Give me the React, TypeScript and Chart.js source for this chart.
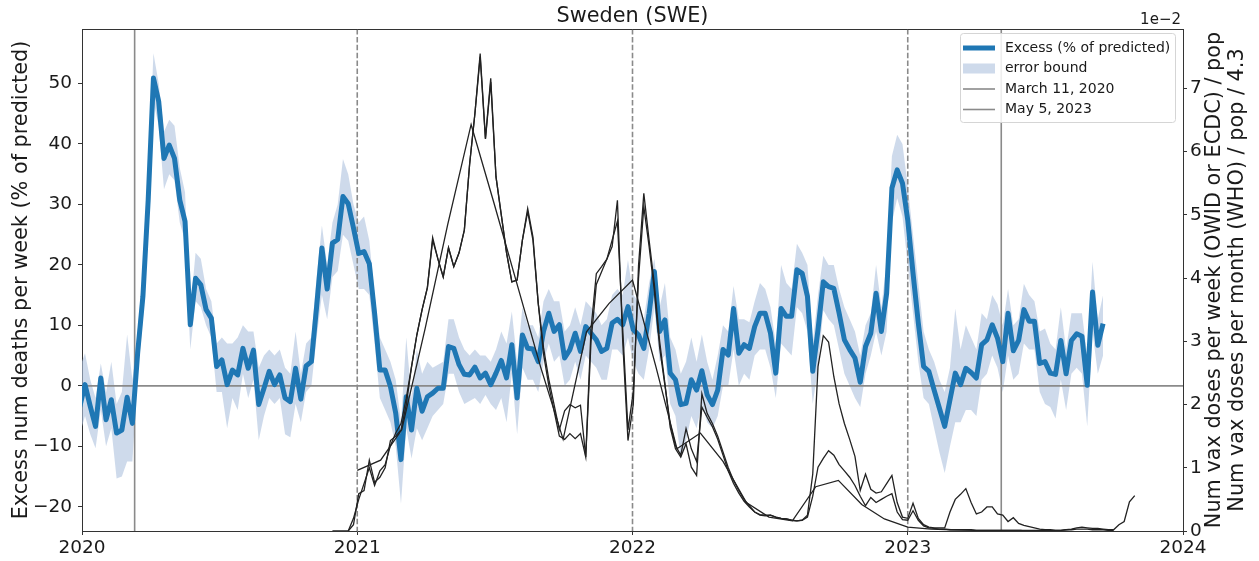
import React, { useEffect, useRef } from 'react';
import { Chart, registerables } from 'chart.js';

Chart.register(...registerables);

// ---------------- data ----------------
const excessStart = '2019-12-29'; // weekly series, first week
const excess = [
  -3.5, 0.2, -3.4, -6.7, 1.3, -5.6, -2.3, -7.8, -7.3, -1.9,
  -6.2, 5.4, 14.8, 30.7, 50.9, 47.0, 37.6, 39.8, 37.6, 30.7,
  27.2, 10.1, 17.8, 16.7, 12.6, 11.2, 3.2, 4.3, 0.2, 2.6,
  1.8, 6.2, 2.9, 5.9, -3.1, -0.4, 2.4, 0.2, 1.8, -2.0,
  -2.6, 2.9, -2.2, 3.3, 4.0, 13.1, 22.8, 16.0, 23.6, 24.2,
  31.3, 30.1, 26.1, 21.9, 22.2, 20.2, 12.0, 2.6, 2.6, -0.1,
  -4.5, -12.2, -1.8, -7.3, -0.4, -4.2, -1.8, -1.2, -0.4, -0.4,
  6.5, 6.2, 3.5, 1.9, 1.8, 3.1, 1.3, 2.1, 0.2, 2.1,
  4.2, 1.3, 6.8, -2.0, 8.4, 6.2, 6.1, 4.0, 9.0, 12.0,
  9.0, 10.1, 4.6, 6.0, 8.7, 5.7, 9.8, 8.7, 7.6, 5.7,
  6.2, 10.4, 11.0, 10.1, 13.1, 9.3, 8.4, 6.2, 12.0, 18.9,
  9.0, 10.9, 2.1, 1.0, -3.1, -2.9, 1.0, -0.7, 2.5, -1.5,
  -3.1, -0.7, 6.0, 5.1, 12.8, 5.4, 6.8, 6.2, 9.8, 12.0,
  12.0, 8.7, 2.1, 12.8, 11.5, 11.5, 19.2, 18.6, 14.8, 2.4,
  9.3, 17.2, 16.4, 16.1, 12.0, 7.6, 6.0, 4.6, 0.6, 6.5,
  8.7, 15.3, 9.0, 15.3, 32.7, 35.7, 33.5, 27.4, 18.6, 10.4,
  3.2, 2.4, -0.7, -3.7, -6.7, -2.3, 2.1, 0.2, 2.9, 2.2,
  1.3, 6.8, 7.6, 10.1, 7.9, 4.0, 12.0, 5.8, 7.5, 12.6,
  10.7, 10.7, 3.7, 4.0, 2.1, 1.9, 7.5, 2.0, 7.5, 8.6,
  8.2, 0.1, 15.5, 6.7, 10.3,
];
const bandLow = [
  -8, -5, -8, -10.3, -4, -10, -7, -15.3, -15, -12.5,
  -12.5, 2, 11, 26, 47, 43, 32.5, 35, 34, 27,
  24, 6, 14, 13, 10, 8, -1, -1, -7, -2,
  -4, 2, -2, 1, -9, -5, -2, -3, -2, -8,
  -8.5, -3, -6, -1, 0, 8, 15, 11, 18, 19,
  25, 24, 20, 16, 16, 15, 7, -2, -4, -6,
  -10, -19.5, -7, -12, -7, -9, -7, -5, -4, -3,
  2, 2, -1, -3, -2.5, -2, -3, -1.5, -3, -4,
  -2, -6, 2, -8, 3, 1, 1, -1, 4, 7,
  4, 5, 0, 1, 4, 1, 5, 4, 3, 1,
  1, 6, 6, 5, 8, 4, 2, 1, 6, 13,
  4, 5, -3, -5, -12, -9, -5, -7, -3, -6,
  -7, -5, 0, 0, 6, 0, 2, 1, 5, 6,
  6, 3, -2, 7, 6, 5, 13, 12, 9, -3,
  3, 12.5, 11, 10, 6, 2, 0, -2, -3.5, 2,
  5, 9, 5, 9, 27, 31, 28, 20, 12, 4,
  -2, -3, -7, -11, -14.4, -10, -6, -6, -4, -4,
  -5, 1, 2, 5, 3, -1, 5, 1, 2, 7,
  6, 6, -1, -3, -3.5, -5.4, 1, -4, 2, 3,
  2, -6.7, 9, 2, 5,
];
const bandHigh = [
  3, 5.4, 1, -2, 3.7, -1, 4, -3, -1, 8.5,
  1, 9, 19, 34, 55, 50, 42, 44, 43, 36,
  32, 12.5, 22, 21, 16, 14, 7, 8, 7, 7,
  8, 10, 9, 9, 3, 5, 6, 5, 6, 3,
  2, 9, 2, 7, 8, 18, 26.5, 20, 27, 30,
  37.5, 35, 30, 27, 28, 24, 15, 8, 6, 4,
  1, -6, 8, -2, 6, 2, 4, 3, 3.5, 4,
  11, 11, 8, 6, 5, 6, 5, 5, 4, 6,
  9, 7, 12.3, 4, 13, 10, 10, 8, 14, 16,
  14, 14, 9, 10, 13, 10, 14, 13, 12, 10,
  11, 15, 16, 15, 20.8, 15, 14, 11, 17, 21,
  13, 17, 8, 6, 2, 4, 8, 4, 8.5, 4,
  1, 5, 10, 9, 16.5, 11, 11, 10.5, 14, 17,
  16, 13, 7, 20, 17, 16, 23.5, 22, 20, 7,
  15, 21.5, 20, 20, 16, 13, 11, 9, 5, 10,
  12, 20, 13, 20.5, 38, 41.5, 40, 33, 25, 17,
  9, 6, 4, 1, -1, 3, 12.8, 6, 10, 8,
  6, 12, 11, 15, 13.5, 10, 16, 10, 11, 16.9,
  15, 14, 9, 9.5, 7, 6, 13, 6, 12, 12,
  12, 5, 20.5, 11, 15,
];

// vaccine doses per pop, in units of 1e-2
const owidStart = '2020-11-29';
const owidWeekly = [
  0, 0, 0, 0, 0.1, 0.59, 0.64, 1.12, 0.77, 0.85,
  1.0, 1.43, 1.5, 1.6, 2.0, 2.6, 3.1, 3.5, 3.85, 4.64,
  4.3, 4.02, 4.48, 4.18, 4.4, 4.76, 5.8, 6.6, 7.55, 6.21,
  7.16, 5.6, 5.0, 4.4, 3.94, 3.97, 4.6, 5.1, 4.65, 3.6,
  2.8, 2.3, 1.9, 1.5, 1.45, 1.54, 1.46, 1.54, 1.17, 3.2,
  4.07, 4.18, 4.3, 4.5, 5.23, 3.0, 1.43, 2.0, 4.2, 5.34,
  4.6, 3.9, 3.0, 2.33, 1.64, 1.3, 1.17, 1.38, 1.01, 0.88,
  2.17, 1.86, 1.7, 1.5, 1.25, 1.0, 0.8, 0.64, 0.5, 0.4,
  0.3, 0.25, 0.24, 0.25, 0.22, 0.2, 0.19, 0.17, 0.16, 0.17,
  0.25, 0.9, 2.6, 3.09, 2.99, 2.44, 2.01, 1.7, 1.45, 1.18,
  0.64, 0.9, 0.66, 0.6, 0.62, 0.75, 0.88, 0.45, 0.22, 0.2,
  0.44, 0.2, 0.1, 0.06, 0.05, 0.05, 0.05, 0.3, 0.5, 0.58,
  0.67, 0.45, 0.27, 0.3, 0.38, 0.38, 0.27, 0.25, 0.15, 0.21,
  0.12, 0.09, 0.07, 0.05, 0.03, 0.02, 0.02, 0.01, 0.01, 0.02,
  0.03, 0.05, 0.06, 0.05, 0.04, 0.04, 0.03, 0.02, 0.02, 0.1,
  0.15, 0.46, 0.56,
];
const ecdcStart = '2020-12-20';
const ecdcWeekly = [
  0, 0.2, 0.5, 0.75, 1.0, 0.72, 0.95, 1.05, 1.35, 1.55,
  1.7, 2.1, 2.6, 3.1, 3.5, 3.85, 4.6, 4.3, 4.02, 4.48,
  4.18, 4.4, 4.76, 5.8, 6.6, 7.5, 6.2, 7.1, 5.6, 5.0,
  4.4, 3.94, 3.97, 4.6, 5.05, 4.6, 3.6, 2.9, 2.4, 2.0,
  1.6, 1.9, 2.0, 1.95, 1.99, 1.17, 3.0, 3.9, 4.1, 4.3,
  4.6, 4.9, 3.2, 1.6, 2.2, 4.0, 5.13, 4.5, 3.8, 2.9,
  2.3, 1.7, 1.35, 1.2, 1.62, 1.3, 1.1, 1.96, 1.8, 1.65,
  1.45, 1.2, 0.95, 0.75, 0.6, 0.47, 0.38, 0.3, 0.26, 0.25,
  0.25, 0.22, 0.2, 0.19, 0.17, 0.16, 0.17, 0.22, 0.55, 1.01,
  1.15, 1.27, 1.2, 1.05, 0.95, 0.85, 0.72, 0.55, 0.4, 0.53,
  0.45, 0.5, 0.55, 0.59, 0.3, 0.18, 0.17, 0.32, 0.17, 0.08,
  0.05, 0.04, 0.03, 0.03, 0.02, 0.02, 0.02, 0.02, 0.02, 0.01,
  0.01, 0.01, 0.01, 0.01, 0.01, 0.01, 0.01, 0.01, 0.01, 0.01,
  0.01, 0.01, 0.01, 0.01, 0.01, 0.01, 0.02, 0.02, 0.03, 0.03,
  0.03, 0.02, 0.02, 0.02, 0.01, 0.01,
];
const whoMonths = [
  '2021-01-01', '2021-02-01', '2021-03-01', '2021-04-01', '2021-05-01', '2021-06-01',
  '2021-07-01', '2021-08-01', '2021-09-01', '2021-10-01', '2021-11-01', '2021-12-01',
  '2022-01-01', '2022-02-01', '2022-03-01', '2022-04-01', '2022-05-01', '2022-06-01',
  '2022-07-01', '2022-08-01', '2022-09-01', '2022-10-01', '2022-11-01', '2022-12-01',
  '2023-01-01', '2023-02-01', '2023-03-01', '2023-04-01', '2023-05-01', '2023-06-01',
];
const whoMonthly = [
  0.96, 1.12, 1.6, 3.2, 4.85, 6.43,
  5.2, 3.9, 2.6, 1.45, 3.15, 3.6,
  3.97, 2.6, 1.3, 1.55, 1.1, 0.45,
  0.22, 0.16, 0.7, 0.8, 0.42, 0.19,
  0.06, 0.03, 0.02, 0.01, 0.01, 0.01,
];

const yearTicks = [2020, 2021, 2022, 2023, 2024];
const leftTicks = [-20, -10, 0, 10, 20, 30, 40, 50];
const rightTicks = [0, 1, 2, 3, 4, 5, 6, 7];
const dashedYears = ['2021-01-01', '2022-01-01', '2023-01-01'];
const markerDates = ['2020-03-11', '2023-05-05'];
const legendLabels = ['Excess (% of predicted)', 'error bound', 'March 11, 2020', 'May 5, 2023'];
const chartTitle = 'Sweden (SWE)';
const leftTitle = 'Excess num deaths per week (% of predicted)';
const rightTitles = ['Num vax doses per week (OWID or ECDC) / pop', 'Num vax doses per month (WHO) / pop / 4.3'];
const offsetText = '1e\u22122';

// ---------------- helpers ----------------
const DAY = 86400000;
const parseDate = (s: string) => Date.parse(s + 'T00:00:00Z');
const msToYear = (ms: number) => {
  const y = new Date(ms).getUTCFullYear();
  const a = Date.UTC(y, 0, 1);
  const b = Date.UTC(y + 1, 0, 1);
  return y + (ms - a) / (b - a);
};
const toYear = (s: string) => msToYear(parseDate(s));
const weekly = (start: string, vals: number[]) =>
  vals.map((v, i) => ({ x: msToYear(parseDate(start) + i * 7 * DAY), y: v }));
const dated = (dates: string[], vals: number[]) => vals.map((v, i) => ({ x: toYear(dates[i]), y: v }));

const FONT = "'DejaVu Sans', sans-serif";
const BLUE = '#1f77b4';
const BAND = 'rgba(176,196,222,0.62)';
const GRAY = '#8a8a8a';
const TXT = '#1a1a1a';
const SPINE = '#333333';
const EXCESS_INDEX = 3;
const fmtNum = (v: number) => (v < 0 ? '\u2212' + Math.abs(v) : String(v));

const overlay = {
  id: 'overlay',
  beforeDatasetDraw(chart: any, args: any) {
    if (args.index !== EXCESS_INDEX) return;
    const { ctx, chartArea: a, scales } = chart;
    ctx.save();
    ctx.beginPath();
    ctx.rect(a.left, a.top, a.right - a.left, a.bottom - a.top);
    ctx.clip();
    ctx.strokeStyle = GRAY;
    ctx.lineWidth = 1.6;
    const y0 = scales.y.getPixelForValue(0);
    ctx.beginPath();
    ctx.moveTo(a.left, y0);
    ctx.lineTo(a.right, y0);
    ctx.stroke();
    markerDates.forEach((d) => {
      const px = scales.x.getPixelForValue(toYear(d));
      ctx.beginPath();
      ctx.moveTo(px, a.top);
      ctx.lineTo(px, a.bottom);
      ctx.stroke();
    });
    ctx.setLineDash([5.5, 2.4]);
    dashedYears.forEach((d) => {
      const px = scales.x.getPixelForValue(toYear(d));
      ctx.beginPath();
      ctx.moveTo(px, a.top);
      ctx.lineTo(px, a.bottom);
      ctx.stroke();
    });
    ctx.restore();
  },
  afterDraw(chart: any) {
    const { ctx, chartArea: a } = chart;
    ctx.save();
    // top spine
    ctx.strokeStyle = SPINE;
    ctx.lineWidth = 1;
    ctx.beginPath();
    ctx.moveTo(a.left, a.top + 0.5);
    ctx.lineTo(a.right, a.top + 0.5);
    ctx.stroke();

    ctx.fillStyle = TXT;
    // title
    ctx.font = `20.8px ${FONT}`;
    ctx.textAlign = 'center';
    ctx.textBaseline = 'middle';
    ctx.fillText(chartTitle, (a.left + a.right) / 2, 17);

    // left axis title
    const midY = (a.top + a.bottom) / 2;
    ctx.save();
    ctx.translate(22, midY);
    ctx.rotate(-Math.PI / 2);
    ctx.fillText(leftTitle, 0, 0);
    ctx.restore();

    // right axis titles
    [1215, 1238].forEach((cx, i) => {
      ctx.save();
      ctx.translate(cx, midY);
      ctx.rotate(-Math.PI / 2);
      ctx.fillText(rightTitles[i], 0, 0);
      ctx.restore();
    });

    // offset text
    ctx.font = `15px ${FONT}`;
    ctx.textAlign = 'right';
    ctx.fillText(offsetText, a.right - 2, 20);

    // legend
    const lw = 215, lh = 89;
    const lx = a.right - 8 - lw;
    const ly = a.top + 4;
    ctx.fillStyle = 'rgba(255,255,255,0.85)';
    ctx.strokeStyle = '#d5d5d5';
    ctx.lineWidth = 1;
    ctx.beginPath();
    if (ctx.roundRect) ctx.roundRect(lx + 0.5, ly + 0.5, lw, lh, 3);
    else ctx.rect(lx + 0.5, ly + 0.5, lw, lh);
    ctx.fill();
    ctx.stroke();
    const rows = [15, 35.5, 56, 76.5];
    const hx0 = lx + 3, hx1 = lx + 35;
    // excess
    ctx.strokeStyle = BLUE;
    ctx.lineWidth = 5;
    ctx.beginPath();
    ctx.moveTo(hx0, ly + rows[0]);
    ctx.lineTo(hx1, ly + rows[0]);
    ctx.stroke();
    // band
    ctx.fillStyle = BAND;
    ctx.fillRect(hx0, ly + rows[1] - 5, hx1 - hx0, 10);
    // gray lines
    ctx.strokeStyle = GRAY;
    ctx.lineWidth = 1.6;
    [rows[2], rows[3]].forEach((r) => {
      ctx.beginPath();
      ctx.moveTo(hx0, ly + r);
      ctx.lineTo(hx1, ly + r);
      ctx.stroke();
    });
    ctx.fillStyle = TXT;
    ctx.font = `14px ${FONT}`;
    ctx.textAlign = 'left';
    ctx.textBaseline = 'middle';
    legendLabels.forEach((t, i) => ctx.fillText(t, lx + 45, ly + rows[i]));
    ctx.restore();
  },
};

export default function App() {
  const ref = useRef<HTMLCanvasElement | null>(null);
  useEffect(() => {
    document.body.style.margin = '0';
    const canvas = ref.current;
    if (!canvas) return;
    const tickFont = { family: FONT, size: 18.5 };
    const vaxStyle = { borderColor: '#222222', borderWidth: 1.3, pointRadius: 0, fill: false, order: 0, yAxisID: 'y2' };
    const chart = new Chart(canvas, {
      type: 'line',
      data: {
        datasets: [
          { label: 'OWID', data: weekly(owidStart, owidWeekly), ...vaxStyle } as any,
          { label: 'ECDC', data: weekly(ecdcStart, ecdcWeekly), ...vaxStyle } as any,
          { label: 'WHO', data: dated(whoMonths, whoMonthly), ...vaxStyle } as any,
          {
            label: legendLabels[0],
            data: weekly(excessStart, excess),
            yAxisID: 'y',
            borderColor: BLUE,
            borderWidth: 5,
            pointRadius: 0,
            fill: false,
            borderJoinStyle: 'round',
            order: 1,
          } as any,
          {
            label: 'upper',
            data: weekly(excessStart, bandHigh),
            yAxisID: 'y',
            borderWidth: 0,
            borderColor: 'rgba(0,0,0,0)',
            pointRadius: 0,
            fill: '+1',
            backgroundColor: BAND,
            order: 2,
          } as any,
          {
            label: 'lower',
            data: weekly(excessStart, bandLow),
            yAxisID: 'y',
            borderWidth: 0,
            borderColor: 'rgba(0,0,0,0)',
            pointRadius: 0,
            fill: false,
            order: 2,
          } as any,
        ],
      },
      options: {
        responsive: false,
        animation: false,
        devicePixelRatio: 1,
        layout: { padding: { top: 29, left: 0, right: 0, bottom: 0 } },
        plugins: { legend: { display: false }, tooltip: { enabled: false }, title: { display: false } },
        scales: {
          x: {
            type: 'linear',
            min: 2020,
            max: 2024,
            afterBuildTicks: (s: any) => { s.ticks = yearTicks.map((v) => ({ value: v })); },
            afterFit: (s: any) => { s.height = 30; },
            ticks: { callback: (v: any) => String(v), font: tickFont, color: TXT, padding: 2, maxRotation: 0, autoSkip: false },
            grid: { drawOnChartArea: false, drawTicks: true, tickLength: 4, color: SPINE },
            border: { display: true, color: SPINE },
          },
          y: {
            position: 'left',
            min: -24,
            max: 59,
            afterBuildTicks: (s: any) => { s.ticks = leftTicks.map((v) => ({ value: v })); },
            afterFit: (s: any) => { s.width = 82; },
            ticks: { callback: (v: any) => fmtNum(v), font: tickFont, color: TXT, padding: 6 },
            grid: { drawOnChartArea: false, drawTicks: true, tickLength: 4, color: SPINE },
            border: { display: true, color: SPINE },
          },
          y2: {
            position: 'right',
            min: 0,
            max: 7.94,
            afterBuildTicks: (s: any) => { s.ticks = rightTicks.map((v) => ({ value: v })); },
            afterFit: (s: any) => { s.width = 76; },
            ticks: { callback: (v: any) => String(v), font: tickFont, color: TXT, padding: 3 },
            grid: { drawOnChartArea: false, drawTicks: true, tickLength: 4, color: SPINE },
            border: { display: true, color: SPINE },
          },
        },
      } as any,
      plugins: [overlay],
    });
    return () => chart.destroy();
  }, []);
  return (
    <div style={{ width: 1259, height: 561 }}>
      <canvas ref={ref} width={1259} height={561} style={{ display: 'block' }} />
    </div>
  );
}
